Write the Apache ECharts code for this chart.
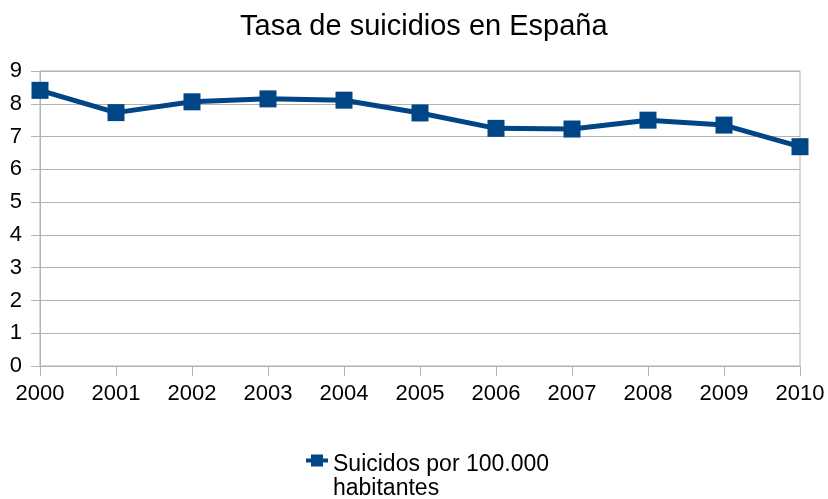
<!DOCTYPE html>
<html><head><meta charset="utf-8">
<script src="https://cdn.jsdelivr.net/npm/echarts@6/dist/echarts.min.js"></script>
<style>html,body{margin:0;padding:0;background:#fff}#c{width:828px;height:499px}</style>
</head><body><div id="c"></div>
<script>
const years = ['2000','2001','2002','2003','2004','2005','2006','2007','2008','2009','2010'];
const rates = [8.41, 7.73, 8.06, 8.15, 8.11, 7.72, 7.25, 7.23, 7.50, 7.35, 6.69];
const seriesName = 'Suicidos por 100.000\nhabitantes';
const titleText = 'Tasa de suicidios en España';
const yTicks = [0,1,2,3,4,5,6,7,8,9];

const chart = echarts.init(document.getElementById('c'), null, {renderer:'canvas'});
const font = 'Liberation Sans, Arial, sans-serif';
chart.setOption({
  animation:false,
  textStyle:{fontFamily:font},
  title:{text:titleText,left:235,top:7,textStyle:{fontFamily:font,fontSize:29,fontWeight:'normal',color:'#000'}},
  grid:{left:40,right:28,top:71,bottom:133,containLabel:false,show:true,borderColor:'#b3b3b3',borderWidth:1},
  legend:{top:448,left:301,itemWidth:22,itemHeight:46,itemGap:4,
    itemStyle:{borderWidth:0},
    textStyle:{fontFamily:font,fontSize:23,color:'#000',lineHeight:24},
    data:[{name:seriesName,icon:'path://M0,46 L0,46 M0,5 L5,5 L5,1 L17,1 L17,5 L22,5 L22,9 L17,9 L17,13 L5,13 L5,9 L0,9 Z'}]},
  xAxis:{type:'category',data:years,boundaryGap:false,
    axisLine:{lineStyle:{color:'#b3b3b3',width:1}},
    axisTick:{show:true,length:10,lineStyle:{color:'#b3b3b3'}},
    axisLabel:{fontFamily:font,fontSize:22,color:'#000',margin:17},
    splitLine:{show:false}},
  yAxis:{type:'value',min:0,max:9,interval:1,
    axisLine:{show:true,lineStyle:{color:'#b3b3b3'}},
    axisTick:{show:true,length:9,lineStyle:{color:'#b3b3b3'}},
    axisLabel:{fontFamily:font,fontSize:22,color:'#000',margin:18,
      formatter:v=>yTicks.includes(v)?String(v):''},
    splitLine:{show:true,lineStyle:{color:'#b3b3b3'}}},
  series:[{name:seriesName,type:'line',data:rates,
    symbol:'rect',symbolSize:17,
    lineStyle:{color:'#004586',width:5},
    itemStyle:{color:'#004586'}}]
});
</script></body></html>
